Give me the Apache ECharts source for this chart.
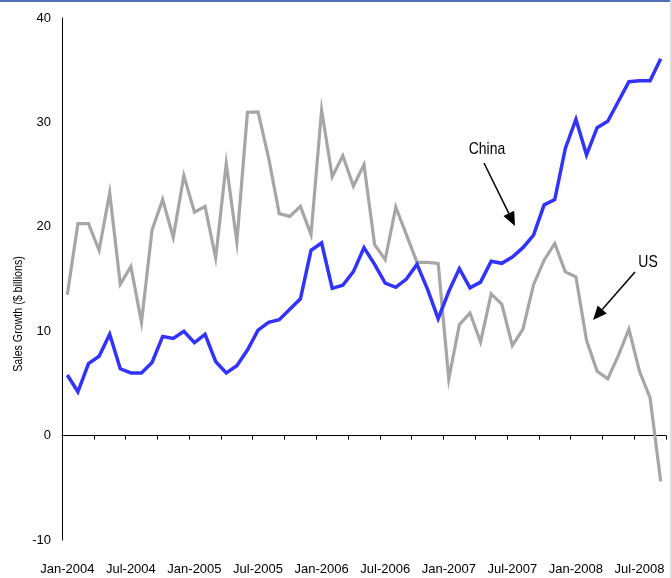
<!DOCTYPE html>
<html>
<head>
<meta charset="utf-8">
<script src="https://cdn.jsdelivr.net/npm/echarts@6/dist/echarts.min.js"></script>
<style>
html,body{margin:0;padding:0;background:#fff;}
#chart{width:672px;height:578px;}
</style>
</head>
<body>
<div id="chart"></div>
<script>
// Monthly categories Jan-2004 .. Sep-2008
var monthNames = ['Jan','Feb','Mar','Apr','May','Jun','Jul','Aug','Sep','Oct','Nov','Dec'];
var categories = [];
for (var y = 2004; y <= 2008; y++) {
  for (var m = 0; m < 12; m++) {
    if (y === 2008 && m > 8) break;
    categories.push(monthNames[m] + '-' + y);
  }
}

var chinaValues = [5.8,4.2,6.9,7.6,9.7,6.4,6.0,6.0,7.0,9.5,9.3,10.0,8.9,9.7,7.1,6.0,6.7,8.2,10.1,10.85,
  11.1,12.1,13.1,17.75,18.45,14.1,14.4,15.7,18.0,16.4,14.6,14.2,15.0,16.4,14.0,11.2,13.8,16.0,14.15,14.7,
  16.7,16.5,17.1,18.0,19.2,22.1,22.6,27.5,30.3,26.9,29.5,30.1,32.0,33.9,34.0,34.0,36.1];

var usValues = [13.5,20.3,20.3,17.75,23.25,14.5,16.2,10.85,19.7,22.6,19.0,24.9,21.4,21.96,17.0,26.05,18.55,30.97,31.0,26.6,
  21.26,21.0,21.96,19.25,31.2,24.8,26.8,23.9,25.96,18.3,16.86,21.87,19.25,16.6,16.6,16.5,5.43,10.63,11.75,8.97,
  13.57,12.6,8.62,10.2,14.46,16.8,18.4,15.68,15.2,9.13,6.16,5.43,7.66,10.2,6.16,3.6,-4.38];

var yMin = -10, yMax = 40, yInterval = 10;
var yTitle = 'Sales Growth ($ billions)';
var chinaLabel = 'China';
var usLabel = 'US';

var FONT = "'Liberation Sans', Arial, sans-serif";
var NARROW = 0.82;

function arrow(x1, y1, x2, y2) {
  var dx = x2 - x1, dy = y2 - y1, len = Math.sqrt(dx*dx + dy*dy);
  var ux = dx/len, uy = dy/len, hl = 14, hw = 6;
  var bx = x2 - ux*hl, by = y2 - uy*hl;
  var px = -uy*hw, py = ux*hw;
  return [
    {type:'line', shape:{x1:x1,y1:y1,x2:bx,y2:by}, style:{stroke:'#000', lineWidth:1.5}, z:10},
    {type:'polygon', shape:{points:[[bx+px,by+py],[bx-px,by-py],[x2,y2]]}, style:{fill:'#000'}, z:10}
  ];
}

var chart = echarts.init(document.getElementById('chart'), null, {renderer:'canvas'});

var graphics = [
  {type:'rect', shape:{x:0,y:0,width:672,height:2}, style:{fill:'#4F72B6'}, z:1},
  {type:'rect', shape:{x:670,y:0,width:2,height:578}, style:{fill:'#DCDCDC'}, z:1},
  {type:'text', x:18, y:314, rotation:Math.PI/2, scaleX:NARROW,
    style:{text:yTitle, font:'13px ' + FONT, fill:'#000', textAlign:'center', textVerticalAlign:'middle'}},
  {type:'text', x:487, y:149, scaleX:NARROW, style:{text:chinaLabel, font:'17px ' + FONT, fill:'#000', textAlign:'center', textVerticalAlign:'middle'}},
  {type:'text', x:648, y:262, scaleX:NARROW, style:{text:usLabel, font:'17px ' + FONT, fill:'#000', textAlign:'center', textVerticalAlign:'middle'}}
].concat(arrow(484, 163, 515, 226)).concat(arrow(635, 272, 593, 320));

chart.setOption({
  animation: false,
  backgroundColor: '#fff',
  grid: {left: 62, right: 6, top: 18, bottom: 38, containLabel: false},
  xAxis: [
    {
      type: 'category', data: categories, position: 'top', boundaryGap: true,
      axisLine: {show: true, onZero: true, lineStyle: {color: '#000', width: 1}},
      axisTick: {show: true, inside: true, interval: 2, length: 4, alignWithLabel: false, lineStyle: {color: '#000'}},
      axisLabel: {show: false},
      splitLine: {show: false}
    },
    {
      type: 'category', data: categories, position: 'bottom', boundaryGap: true,
      axisLine: {show: false, onZero: false},
      axisTick: {show: false},
      axisLabel: {show: true, interval: 5, margin: 23, color: '#000', fontSize: 13, fontFamily: FONT},
      splitLine: {show: false}
    }
  ],
  yAxis: {
    type: 'value', min: yMin, max: yMax, interval: yInterval,
    axisLine: {show: true, onZero: false, lineStyle: {color: '#000', width: 1}},
    axisTick: {show: false},
    axisLabel: {color: '#000', fontSize: 13, fontFamily: FONT, margin: 11},
    splitLine: {show: false}
  },
  series: [
    {name: 'US', type: 'line', xAxisIndex: 1, data: usValues, showSymbol: false, symbol: 'none',
      lineStyle: {color: '#A6A6A6', width: 3.2, join: 'miter'}, z: 2},
    {name: 'China', type: 'line', xAxisIndex: 1, data: chinaValues, showSymbol: false, symbol: 'none',
      lineStyle: {color: '#3333FF', width: 3.5, join: 'miter'}, z: 3}
  ],
  graphic: graphics
});
</script>
</body>
</html>
